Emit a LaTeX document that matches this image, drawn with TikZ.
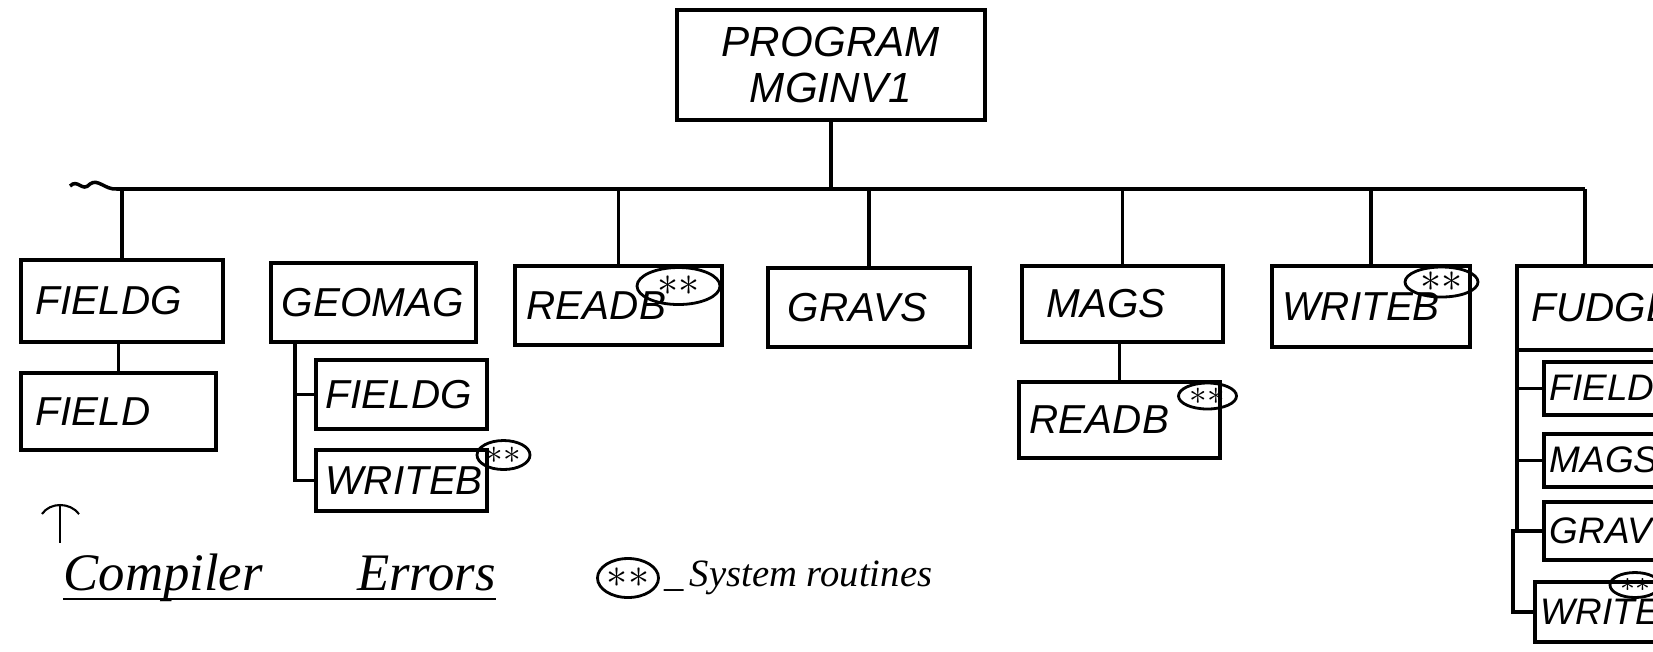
\documentclass[tikz,border=0pt]{standalone}
\usepackage{fontspec}
\newfontfamily\handfont{Liberation Sans}
\newfontfamily\notefont{Liberation Serif}
\usetikzlibrary{positioning,shapes.geometric}

\begin{document}
\begin{tikzpicture}[
  font=\handfont\itshape\fontsize{11.5}{13}\selectfont,
  routine/.style={draw, line width=1pt, anchor=north west, align=left, inner xsep=1.5mm, inner ysep=0pt},
  subroutine/.style={routine, inner xsep=0.6mm, font=\handfont\itshape\fontsize{10.5}{12}\selectfont},
  sysmark/.style={draw, ellipse, line width=0.8pt, inner sep=0pt, font=\fontsize{12}{12}\selectfont},
  link/.style={line width=1pt}
]
\path[use as bounding box, clip] (0,0) rectangle (16.53,-6.51);
\fill[white] (0,0) rectangle (16.53,-6.51);

% main program and first level
\node[routine, text width=27.8mm, minimum height=11mm, align=center,
  font=\handfont\itshape\fontsize{12}{13}\selectfont] (program) at (6.75,-0.08) {PROGRAM\\MGINV1};
\node[routine, text width=17.2mm, minimum height=8.2mm] (fieldg) at (0.19,-2.58) {FIELDG};
\node[routine, text width=18.3mm, minimum height=7.9mm, inner xsep=1.1mm] (geomag) at (2.69,-2.61) {GEOMAG};
\node[routine, text width=18.3mm, minimum height=7.9mm, inner xsep=1.2mm] (readb) at (5.13,-2.64) {READB};
\node[routine, text width=16.2mm, minimum height=7.9mm, inner xsep=2mm] (gravs) at (7.66,-2.66) {GRAVS};
\node[routine, text width=15.1mm, minimum height=7.6mm, inner xsep=2.5mm] (mags) at (10.20,-2.64) {MAGS};
\node[routine, text width=17.6mm, minimum height=8.1mm, inner xsep=1.1mm] (writeb) at (12.70,-2.64) {WRITEB};
\node[routine, text width=16mm, minimum height=8.4mm] (fudge) at (15.15,-2.64) {FUDGE};

% second level
\node[routine, text width=16.5mm, minimum height=7.7mm] (field) at (0.19,-3.71) {FIELD};
\node[routine, text width=15.1mm, minimum height=6.9mm, inner xsep=1mm] (gfieldg) at (3.14,-3.58) {FIELDG};
\node[routine, text width=15.1mm, minimum height=6.1mm, inner xsep=1mm] (gwriteb) at (3.14,-4.48) {WRITEB};
\node[routine, text width=17.9mm, minimum height=7.6mm, inner xsep=1.1mm] (mreadb) at (10.17,-3.80) {READB};
\node[subroutine, text width=15mm, minimum height=5.3mm] (ffieldg) at (15.42,-3.60) {FIELDG};
\node[subroutine, text width=15mm, minimum height=5.3mm] (fmags) at (15.42,-4.32) {MAGS};
\node[subroutine, text width=15mm, minimum height=5.8mm] (fgravs) at (15.42,-5.00) {GRAVS};
\node[subroutine, text width=16mm, minimum height=6mm] (fwrite) at (15.33,-5.80) {WRITEB};

% system routine marks
\node[sysmark, minimum width=8.3mm, minimum height=3.7mm] (readbstar) at ([shift={(-0.45,-0.22)}]readb.north east) {$\ast\ast$};
\node[sysmark, minimum width=7.3mm, minimum height=3mm] (writebstar) at ([shift={(-0.30,-0.18)}]writeb.north east) {$\ast\ast$};
\node[sysmark, minimum width=5.3mm, minimum height=2.9mm, font=\fontsize{10}{10}\selectfont] (gwritebstar) at ([shift={(0.15,-0.07)}]gwriteb.north east) {$\ast\ast$};
\node[sysmark, minimum width=5.8mm, minimum height=2.6mm, font=\fontsize{10}{10}\selectfont] (mreadbstar) at ([shift={(-0.14,-0.16)}]mreadb.north east) {$\ast\ast$};
\node[sysmark, minimum width=5mm, minimum height=2.5mm, font=\fontsize{8}{8}\selectfont] (fwritestar) at ([shift={(1.02,-0.05)}]fwrite.north west) {$\ast\ast$};

% bus and drops
\coordinate (busL) at (1.17,-1.89);
\coordinate (fudgetop) at ([xshift=7mm]fudge.north west);
\draw[link] (0.70,-1.86) .. controls (0.78,-1.78) and (0.82,-1.93) .. (0.90,-1.84)
  .. controls (0.98,-1.78) and (1.05,-1.90) .. (busL);
\draw[link] (busL) -- (fudgetop |- busL);
\draw[link] (program.south) -- (program.south |- busL);
\foreach \n in {fieldg,readb,gravs,mags,writeb}
  \draw[link] (\n.north) -- (\n.north |- busL);
\draw[link] (fudgetop) -- (fudgetop |- busL);

% second level links
\draw[link] (field.north) -- (field.north |- fieldg.south);
\draw[link] (mreadb.north) -- (mreadb.north |- mags.south);
\coordinate (gspine) at ([xshift=2.6mm]geomag.south west);
\draw[link] (gspine) |- (gwriteb.west);
\draw[link] (gspine |- gfieldg.west) -- (gfieldg.west);
\coordinate (fspine) at ([xshift=0.2mm]fudge.south west);
\draw[link] (fspine) -- (fspine |- fgravs.west);
\draw[link] (fspine |- ffieldg.west) -- (ffieldg.west);
\draw[link] (fspine |- fmags.west) -- (fmags.west);
\draw[link] (fgravs.west) -| ([xshift=-2mm]fwrite.west) -- (fwrite.west);

% legend and notes
\node[sysmark, minimum width=6.1mm, minimum height=3.9mm, font=\fontsize{13}{13}\selectfont] (legstar) at (6.28,-5.78) {$\ast\ast$};
\node[anchor=west, inner sep=1pt, font=\notefont\itshape\fontsize{11}{13}\selectfont] (legend) at (legstar.east) {\_\,System routines};
\node[anchor=base west, inner sep=0pt, text width=43.2mm, align=left,
  font=\notefont\itshape\fontsize{15}{17}\selectfont] (errors) at (0.63,-5.90) {Compiler\hfill Errors};
\draw[line width=0.8pt] ([yshift=-0.09cm]errors.base west) -- ([yshift=-0.09cm]errors.base east);
\draw[line width=0.6pt] (0.42,-5.14) .. controls (0.50,-5.02) and (0.70,-5.02) .. (0.79,-5.14);
\draw[line width=0.6pt] (0.60,-5.06) -- (0.60,-5.43);
\end{tikzpicture}
\end{document}
